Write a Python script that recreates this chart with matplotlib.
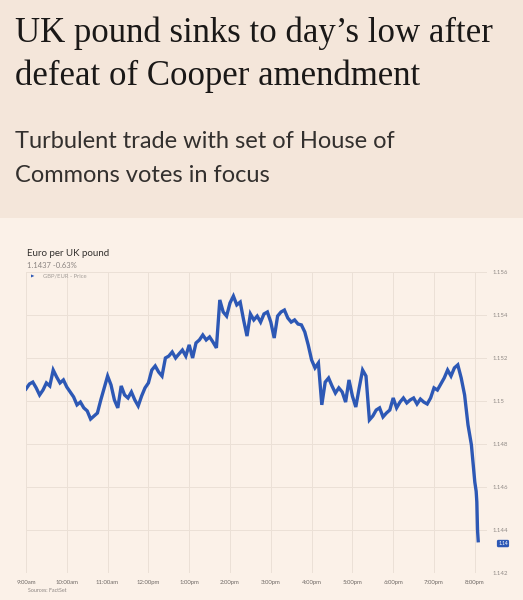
import numpy as np
import matplotlib
matplotlib.use("Agg")
import matplotlib.pyplot as plt
from matplotlib.patches import Rectangle

# GBP/EUR, 5-minute readings from 9:00am (minutes after 9:00am)
minutes = list(range(0, 665, 5)) + [662, 663, 664, 665]
prices = [
    1.15056, 1.15079, 1.15088, 1.15061, 1.15028, 1.15051, 1.15084, 1.15070, 1.15144, 1.15112, 1.15084, 1.15098,
    1.15065, 1.15042, 1.15019, 1.14982, 1.14995, 1.14968, 1.14954, 1.14916, 1.14930, 1.14944, 1.15005, 1.15061,
    1.15116, 1.15075, 1.15005, 1.14968, 1.15070, 1.15028, 1.15014, 1.15042, 1.15005, 1.14977, 1.15023, 1.15061,
    1.15084, 1.15144, 1.15163, 1.15135, 1.15116, 1.15200, 1.15209, 1.15228, 1.15200, 1.15219, 1.15237, 1.15209,
    1.15261, 1.15200, 1.15270, 1.15284, 1.15307, 1.15284, 1.15298, 1.15274, 1.15247, 1.15470, 1.15414, 1.15395,
    1.15456, 1.15488, 1.15447, 1.15460, 1.15377, 1.15302, 1.15405, 1.15377, 1.15395, 1.15367, 1.15405, 1.15414,
    1.15367, 1.15293, 1.15395, 1.15414, 1.15423, 1.15386, 1.15367, 1.15377, 1.15358, 1.15354, 1.15321, 1.15261,
    1.15191, 1.15154, 1.15177, 1.14982, 1.15088, 1.15107, 1.15070, 1.15037, 1.15061, 1.15042, 1.14995, 1.15098,
    1.15023, 1.14972, 1.15061, 1.15144, 1.15116, 1.14912, 1.14930, 1.14958, 1.14968, 1.14926, 1.14944, 1.14958,
    1.15014, 1.14968, 1.14995, 1.15014, 1.14991, 1.15005, 1.15014, 1.14986, 1.15009, 1.14995, 1.14986, 1.15014,
    1.15061, 1.15051, 1.15079, 1.15107, 1.15144, 1.15116, 1.15154, 1.15168, 1.15107, 1.15028, 1.14889, 1.14796,
    1.14623, 1.14580, 1.14530, 1.14400, 1.14350,
]

hour_labels = ["9:00am", "10:00am", "11:00am", "12:00pm", "1:00pm", "2:00pm", "3:00pm",
               "4:00pm", "5:00pm", "6:00pm", "7:00pm", "8:00pm"]
y_ticks = [1.142, 1.144, 1.146, 1.148, 1.150, 1.152, 1.154, 1.156]
y_labels = ["1.142", "1.144", "1.146", "1.148", "1.15", "1.152", "1.154", "1.156"]

W, H = 523, 600
blue = "#2d58b5"


def fx(x):
    return x / W


def fy(y):
    return 1 - y / H


fig = plt.figure(figsize=(W / 100, H / 100), dpi=100)
fig.patch.set_facecolor("#fbf1e8")
fig.patches.append(Rectangle((0, fy(218)), 1, 1 - fy(218), transform=fig.transFigure,
                             facecolor="#f4e6da", edgecolor="none", zorder=0))

# headline + standfirst
fig.text(fx(15), fy(42), "UK pound sinks to day\u2019s low after", family="Liberation Serif",
         fontsize=25, color="#1a1817", va="baseline")
fig.text(fx(15), fy(85), "defeat of Cooper amendment", family="Liberation Serif",
         fontsize=25, color="#1a1817", va="baseline")
fig.text(fx(15), fy(148), "Turbulent trade with set of House of", family="Lato",
         fontsize=17, color="#33302e", va="baseline")
fig.text(fx(15), fy(182), "Commons votes in focus", family="Lato",
         fontsize=17, color="#33302e", va="baseline")

# chart
ax = fig.add_axes([fx(26), fy(573), fx(487) - fx(26), fy(272) - fy(573)])
ax.set_facecolor("none")
t = np.array(minutes) / 60.0
ax.plot(t, prices, color=blue, lw=2.4, solid_joinstyle="miter")

ax.set_xlim(0, (487 - 26) / 40.8)
ax.set_ylim(1.142, 1.156)
ax.set_xticks(range(len(hour_labels)))
ax.set_xticklabels(hour_labels, fontsize=4.3, color="#6f6965", family="Lato")
ax.set_yticks(y_ticks)
ax.set_yticklabels(y_labels, fontsize=4.3, color="#8f8985", family="Lato")
ax.yaxis.tick_right()
ax.tick_params(length=0, pad=4)
ax.tick_params(axis="x", pad=5)
ax.grid(True, color="#ebe0d6", lw=0.7)
for s in ax.spines.values():
    s.set_visible(False)

# last price tag
last = prices[-1]
ax.annotate("1.14", xy=(1.0, last), xycoords=("axes fraction", "data"),
            xytext=(8, -2), textcoords="offset points", fontsize=3.5, color="white",
            va="center", ha="left", family="Lato",
            bbox=dict(boxstyle="round,pad=0.25,rounding_size=0.3", fc=blue, ec="none"))

fig.text(fx(27), fy(254), "Euro per UK pound", family="Lato", fontsize=7, color="#33302e", va="center")
fig.text(fx(27), fy(266), "1.1437 -0.63%", family="Lato", fontsize=5.5, color="#8a8380", va="center")
fig.text(fx(31), fy(276), "\u25B6", family="DejaVu Sans", fontsize=3.2, color=blue, va="center")
fig.text(fx(43), fy(276), "GBP/EUR - Price", family="Lato", fontsize=4.2, color="#a39d98", va="center")
fig.text(fx(28), fy(591), "Sources: FactSet", family="Lato", fontsize=3.8, color="#8a8380", va="center")

fig.savefig("out.png", dpi=100, facecolor=fig.get_facecolor())
